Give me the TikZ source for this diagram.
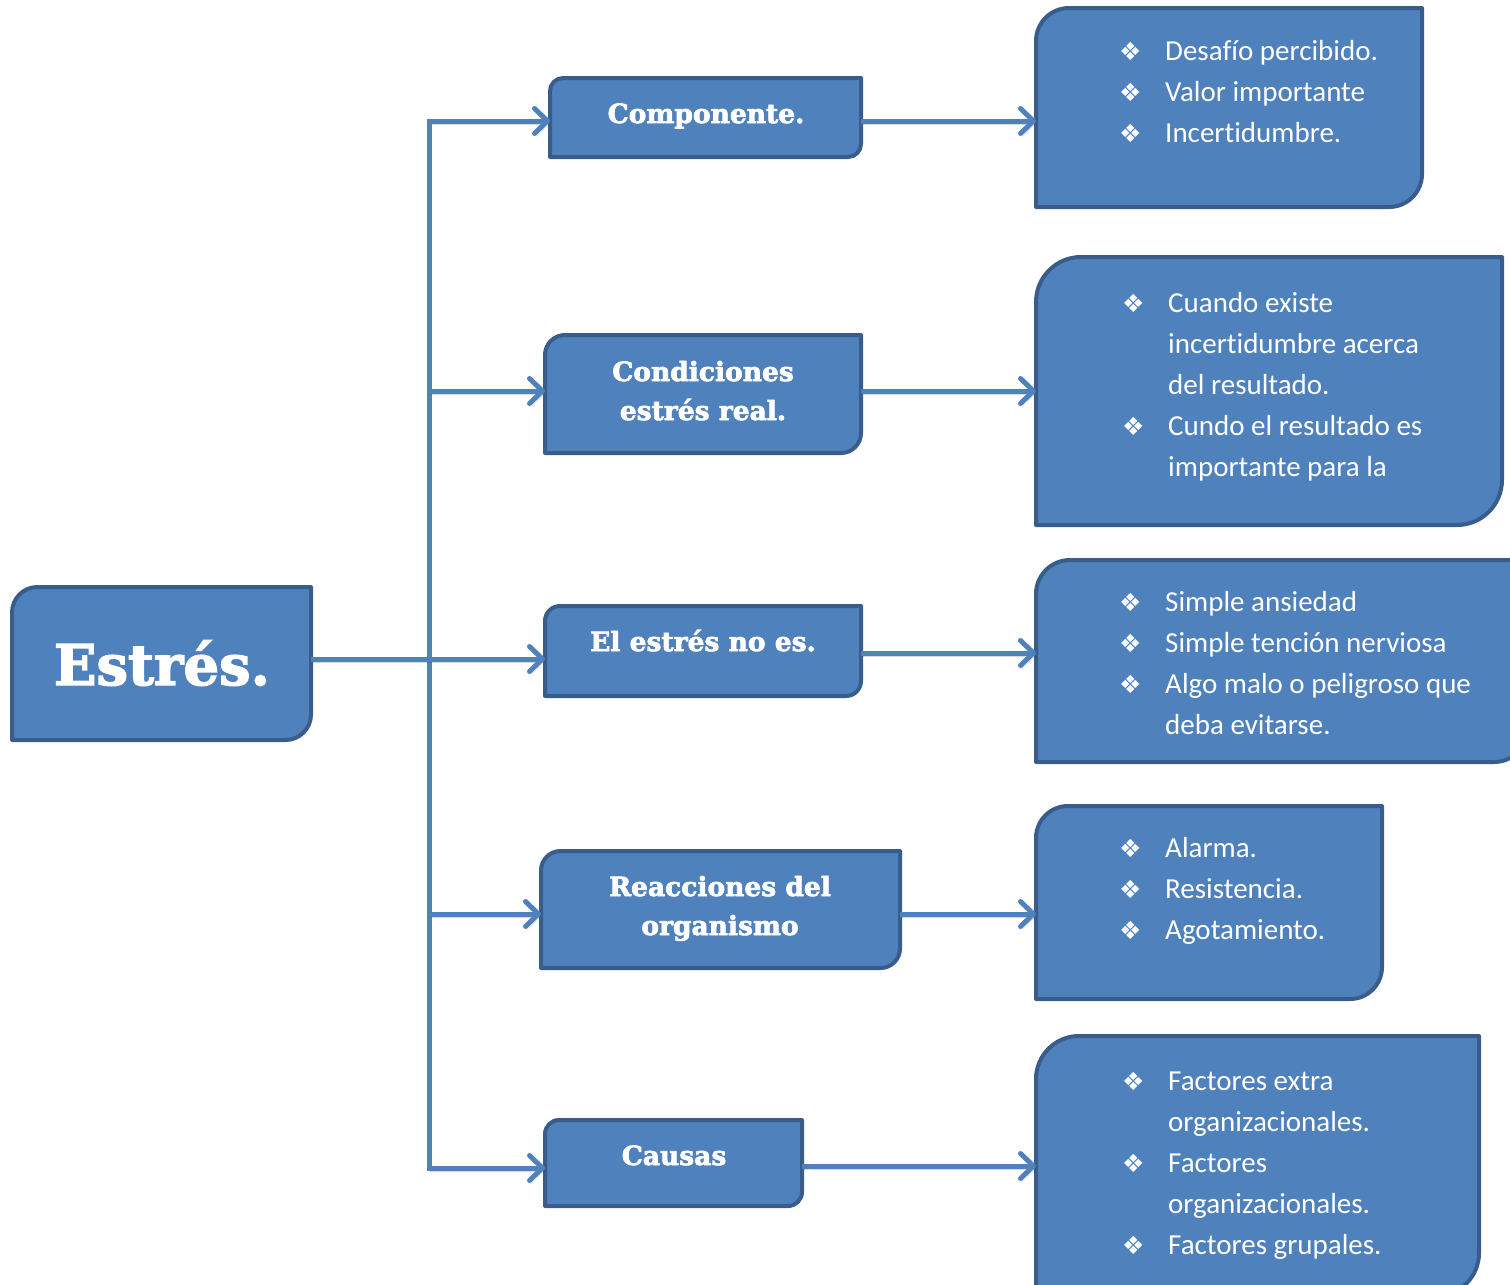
\documentclass[tikz,border=0pt]{standalone}
\usepackage{fontspec}
\newfontfamily\titlefont{DejaVu Serif}[BoldFeatures={FakeBold=2.5}]
\newfontfamily\bodyfont{Carlito}[Ligatures=NoCommon,RawFeature={-liga;-clig;-calt;-dlig}]
\newfontfamily\symfont{DejaVu Sans}
\usetikzlibrary{arrows.meta,backgrounds,calc}
\definecolor{boxfill}{HTML}{4F81BD}
\definecolor{boxedge}{HTML}{385D8A}
\definecolor{linecol}{HTML}{4F81BD}
\newcommand\bul{\makebox[46pt][l]{\symfont\fontsize{25}{25}\selectfont ❖}}
\newcommand\dbox[2]{%
  \draw[boxline] ([xshift=#2]#1.north west) -- (#1.north east)
    -- ([yshift=#2]#1.south east) arc[start angle=0,end angle=-90,radius=#2]
    -- (#1.south west) -- ([yshift=-#2]#1.north west)
    arc[start angle=180,end angle=90,radius=#2] -- cycle;}
\begin{document}
\begin{tikzpicture}[x=1pt,y=1pt,
  bx/.style={inner sep=0pt, outer sep=0pt, anchor=north west},
  ttl/.style={anchor=base, text=white, inner sep=0pt,
    font=\titlefont\bfseries\fontsize{26.5}{39}\selectfont},
  body/.style={anchor=base west, text=white, inner sep=0pt,
    font=\bodyfont\fontsize{29}{41}\selectfont},
  boxline/.style={fill=boxfill, draw=boxedge, line width=4pt, line join=round},
  shadowpre/.style={preaction={draw=black, opacity=0.15,
    transform canvas={shift={(1.5pt,-3pt)}}}},
  tipstyle/.tip={Straight Barb[length=13pt,width=25pt,line width=5pt,line cap=round,line join=round]},
  conn/.style={draw=linecol, line width=5pt, -tipstyle, shadowpre}
]
\useasboundingbox (0,0) rectangle (1510,-1285);

% box frames (named nodes)
\node[bx, minimum width=299, minimum height=153] (est)  at (12,-587) {};
\node[bx, minimum width=311, minimum height=79]  (comp) at (550,-78) {};
\node[bx, minimum width=316, minimum height=118] (cond) at (545,-335) {};
\node[bx, minimum width=316, minimum height=90]  (noes) at (545,-606) {};
\node[bx, minimum width=359, minimum height=117] (reac) at (541,-851) {};
\node[bx, minimum width=257, minimum height=86]  (caus) at (545,-1120) {};
\node[bx, minimum width=386, minimum height=199] (r1) at (1036,-8) {};
\node[bx, minimum width=466, minimum height=268] (r2) at (1036,-257) {};
\node[bx, minimum width=492, minimum height=202] (r3) at (1036,-560) {};
\node[bx, minimum width=346, minimum height=193] (r4) at (1036,-806) {};
\node[bx, minimum width=443, minimum height=260] (r5) at (1036,-1036) {};

\begin{scope}[on background layer]
\foreach \n/\r in {est/25.5,comp/13,cond/20,noes/15,reac/19.5,caus/14,
                   r1/33,r2/45,r3/34,r4/32,r5/43}{\dbox{\n}{\r pt}}
\end{scope}

% titles
\node[ttl, font=\titlefont\bfseries\fontsize{56}{60}\selectfont] (estT) at (162,-685) {Estrés.};
\node[ttl] (compT) at (706,-123) {Componente.};
\node[ttl] (condT) at (703,-381) {\begin{tabular}[t]{@{}c@{}}Condiciones\\estrés real.\end{tabular}};
\node[ttl] (noesT) at (703,-651) {El estrés no es.};
\node[ttl] (reacT) at (720,-896) {\begin{tabular}[t]{@{}c@{}}Reacciones del\\organismo\end{tabular}};
\node[ttl] (causT) at (674,-1165) {Causas};

% bullet texts
\node[body] (r1T) at (1119,-60) {\begin{tabular}[t]{@{}l@{}}
 \bul Desafío percibido.\\ \bul Valor importante\\ \bul Incert\kern0pt idumbre.\end{tabular}};
\node[body, font=\bodyfont\fontsize{29}{41.2}\selectfont] (r2T) at (1122,-312) {\begin{tabular}[t]{@{}l@{}}
 \bul Cuando existe\\ \hspace*{46pt}incert\kern0pt idumbre acerca\\ \hspace*{46pt}del resultado.\\
 \bul Cundo el resultado es\\ \hspace*{46pt}importante para la\end{tabular}};
\node[body] (r3T) at (1119,-611) {\begin{tabular}[t]{@{}l@{}}
 \bul Simple ansiedad\\ \bul Simple tención nerviosa\\ \bul Algo malo o peligroso que\\
 \hspace*{46pt}deba evitarse.\end{tabular}};
\node[body] (r4T) at (1119,-857) {\begin{tabular}[t]{@{}l@{}}
 \bul Alarma.\\ \bul Resistencia.\\ \bul Agotamiento.\end{tabular}};
\node[body, font=\bodyfont\fontsize{29}{41.2}\selectfont] (r5T) at (1122,-1090) {\begin{tabular}[t]{@{}l@{}}
 \bul Factores extra\\ \hspace*{46pt}organizacionales.\\ \bul Factores\\
 \hspace*{46pt}organizacionales.\\ \bul Factores grupales.\end{tabular}};

% connectors
\coordinate (tTop) at (429,-121);
\coordinate (tBot) at (429,-1168);
\coordinate (yB) at (0,-391);
\coordinate (yC) at (0,-659);
\coordinate (yD) at (0,-914);
\coordinate (yC2) at (0,-653);
\coordinate (yE) at (0,-1166);
\draw[conn, tipstyle-tipstyle, line join=miter] (comp.west |- tTop) -- (tTop) -- (tBot) -- (caus.west |- tBot);
\draw[conn] (tTop |- yB) -- (cond.west |- yB);
\draw[conn] (est.east |- yC) -- (noes.west |- yC);
\draw[conn] (tTop |- yD) -- (reac.west |- yD);
\draw[conn] (comp.east |- tTop) -- (r1.west |- tTop);
\draw[conn] (cond.east |- yB) -- (r2.west |- yB);
\draw[conn] (noes.east |- yC2) -- (r3.west |- yC2);
\draw[conn] (reac.east |- yD) -- (r4.west |- yD);
\draw[conn] (caus.east |- yE) -- (r5.west |- yE);
\end{tikzpicture}
\end{document}
